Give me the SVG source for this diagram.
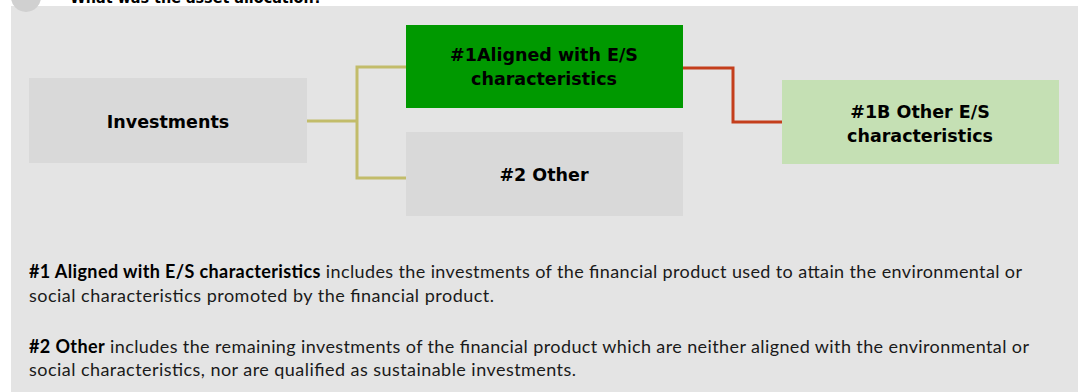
<svg xmlns="http://www.w3.org/2000/svg" width="1078" height="392" viewBox="0 0 1078 392">
<style>
.lbl{font-family:"DejaVu Sans","Open Sans",sans-serif;font-weight:bold;font-size:17.5px;fill:#000;text-anchor:middle}
.body{font-family:Lato,"Open Sans",sans-serif;font-size:18px;fill:#1a1a1a}
.b{font-weight:bold;fill:#000}
.conn{fill:none;stroke-width:3}
</style>
<rect x="0" y="0" width="1078" height="392" fill="#ffffff"/>
<rect x="11" y="6" width="1067" height="386" fill="#e4e4e4"/>
<circle cx="26" cy="-3" r="15" fill="#d0d0d0"/>
<text x="70" y="3" font-family="DejaVu Sans, sans-serif" font-weight="bold" font-size="16" fill="#000" textLength="252" lengthAdjust="spacingAndGlyphs">What was the asset allocation?</text>
<g id="connectors">
<polyline class="conn" stroke="#c2bc6a" points="307,121 357,121"/>
<polyline class="conn" stroke="#c2bc6a" points="406,67 357,67 357,178 406,178"/>
<polyline class="conn" stroke="#c43e1c" points="683,68 733,68 733,122 782,122"/>
</g>
<g id="investments">
<rect x="29" y="78" width="278" height="85" fill="#d9d9d9"/>
<text class="lbl" x="168" y="128">Investments</text>
</g>
<g id="aligned">
<rect x="406" y="25" width="277" height="83" fill="#009900"/>
<text class="lbl" x="544" y="61">#1Aligned with E/S</text>
<text class="lbl" x="544" y="85">characteristics</text>
</g>
<g id="other">
<rect x="406" y="132" width="277" height="84" fill="#d9d9d9"/>
<text class="lbl" x="544" y="181">#2 Other</text>
</g>
<g id="other-es">
<rect x="782" y="80" width="277" height="84" fill="#c5e0b4"/>
<text class="lbl" x="920" y="118">#1B Other E/S</text>
<text class="lbl" x="920" y="142">characteristics</text>
</g>
<g id="notes">
<text class="body" x="29" y="278" textLength="993"><tspan class="b">#1 Aligned with E/S characteristics</tspan> includes the investments of the financial product used to attain the environmental or</text>
<text class="body" x="29" y="302" textLength="465">social characteristics promoted by the financial product.</text>
<text class="body" x="29" y="353" textLength="1000"><tspan class="b">#2 Other</tspan> includes the remaining investments of the financial product which are neither aligned with the environmental or</text>
<text class="body" x="29" y="376" textLength="547">social characteristics, nor are qualified as sustainable investments.</text>
</g>
</svg>
